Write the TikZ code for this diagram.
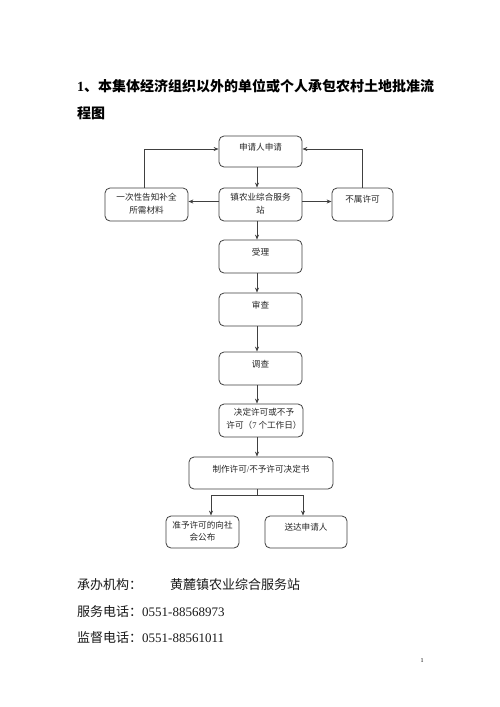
\documentclass[tikz,border=0pt]{standalone}
\usepackage{fontspec}
\setmainfont{Liberation Serif}
\newfontfamily\cjk{Noto Sans CJK SC}
\usetikzlibrary{arrows.meta,calc}
\begin{document}
\begin{tikzpicture}[x=1pt,y=-1pt,
  box/.style={draw=black!75,line width=0.8pt,rounded corners=5pt,inner sep=0pt},
  txt/.style={font=\cjk\fontsize{8.6}{12.5}\selectfont,align=center,text=black!85,inner sep=0pt},
  conn/.style={draw=black!75,line width=0.8pt},
  arr/.style={conn,-{Stealth[length=5pt,width=4pt]}},
  big/.style={font=\cjk\fontsize{13}{15}\selectfont,anchor=west,inner sep=0pt,text=black!90}
]
\useasboundingbox (0,0) rectangle (500,707);
\fill[white] (0,0) rectangle (500,707);

% title
\node[anchor=west,inner sep=0pt,font=\cjk\bfseries\fontsize{14}{16}\selectfont] (t1) at (77,86) {{\rmfamily\bfseries 1}、本集体经济组织以外的单位或个人承包农村土地批准流};
\node[anchor=west,inner sep=0pt,font=\cjk\bfseries\fontsize{14}{16}\selectfont] (t2) at (77,113) {程图};

% boxes
\node[box,minimum width=83pt,minimum height=31pt] (A) at (260.5,151.5) {};
\node[box,minimum width=83pt,minimum height=33pt] (L) at (146.5,204.5) {};
\node[box,minimum width=83pt,minimum height=33pt] (S) at (260.5,204.5) {};
\node[box,minimum width=61pt,minimum height=33pt] (R) at (362.5,204.5) {};
\node[box,minimum width=83pt,minimum height=33pt] (B1) at (260.5,256.5) {};
\node[box,minimum width=83pt,minimum height=33pt] (B2) at (260.5,309.5) {};
\node[box,minimum width=83pt,minimum height=33pt] (B3) at (260.5,368.5) {};
\node[box,minimum width=84pt,minimum height=33pt] (B4) at (261,420.5) {};
\node[box,minimum width=144pt,minimum height=32pt] (B5) at (261,473) {};
\node[box,minimum width=73pt,minimum height=32pt] (B6) at (202.5,532) {};
\node[box,minimum width=82pt,minimum height=32pt] (B7) at (306,532) {};

% labels
\node[txt] (lA) at (260.5,147.5) {申请人申请};
\node[txt] (lL) at (146.5,203.5) {一次性告知补全\\所需材料};
\node[txt] (lS) at (260.5,203.5) {镇农业综合服务\\站};
\node[txt] (lR) at (362.5,199) {不属许可};
\node[txt] (l1) at (260.5,252) {受理};
\node[txt] (l2) at (260.5,305) {审查};
\node[txt] (l3) at (260.5,364) {调查};
\node[txt] (l4) at (264,419) {决定许可或不予\\许可（{\rmfamily 7} 个工作日）};
\node[txt] (l5) at (261,469) {制作许可{\rmfamily /}不予许可决定书};
\node[txt] (l6) at (202.5,531) {准予许可的向社\\会公布};
\node[txt] (l7) at (306,527) {送达申请人};

% vertical spine
\coordinate (xv) at (257,0);
\draw[arr] (A.south -| xv) -- (S.north -| xv);
\draw[arr] (S.south -| xv) -- (B1.north -| xv);
\draw[arr] (B1.south -| xv) -- (B2.north -| xv);
\draw[arr] (B2.south -| xv) -- (B3.north -| xv);
\draw[arr] (B3.south -| xv) -- (B4.north -| xv);
\draw[arr] (B4.south -| xv) -- (B5.north -| xv);

% side branches
\draw[arr] ([yshift=3pt]S.west) -- ([yshift=3pt]L.east);
\draw[arr] ([yshift=3pt]S.east) -- ([yshift=3pt]R.west);
\draw[arr] ([xshift=-2.5pt]L.north) |- ([yshift=2.5pt]A.west);
\draw[arr] ([xshift=-0.5pt]R.north) |- ([yshift=2.5pt]A.east);

% split
\coordinate (jn) at (257,495);
\draw[conn] (B5.south -| xv) -- (jn);
\draw[arr] (jn) -| ([xshift=8.5pt]B6.north);
\draw[arr] (jn) -| ([xshift=-3pt]B7.north);

% footer
\node[big] (f1) at (77,585) {承办机构：};
\node[big] (f1b) at (170,585) {黄麓镇农业综合服务站};
\node[big] (f2) at (77,612) {服务电话：{\rmfamily 0551-88568973}};
\node[big] (f3) at (77,638) {监督电话：{\rmfamily 0551-88561011}};
\node[inner sep=0pt,font=\fontsize{6}{7}\selectfont] (pg) at (422,661) {1};
\end{tikzpicture}
\end{document}
